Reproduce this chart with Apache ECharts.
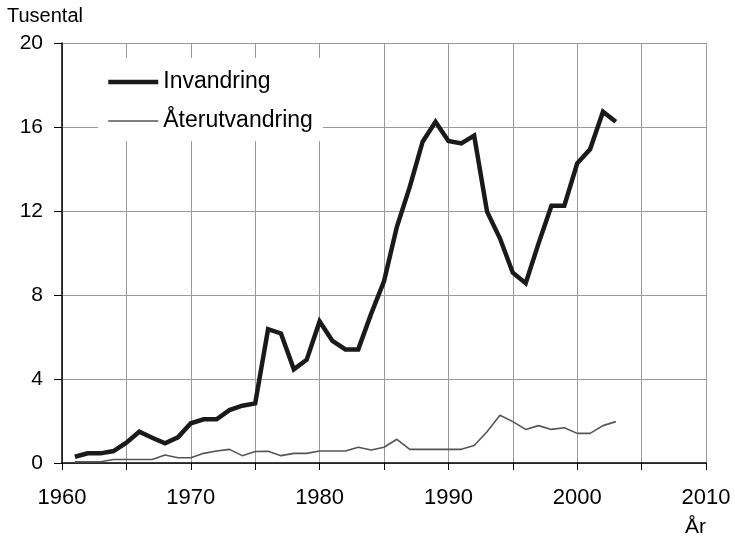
<!DOCTYPE html>
<html>
<head>
<meta charset="utf-8">
<script src="https://cdn.jsdelivr.net/npm/echarts@6/dist/echarts.min.js"></script>
<style>
html,body{margin:0;padding:0;background:#fff;}
#chart{width:735px;height:540px;}
</style>
</head>
<body>
<div id="chart"></div>
<script>
var years = [1961,1962,1963,1964,1965,1966,1967,1968,1969,1970,1971,1972,1973,1974,1975,1976,1977,1978,1979,1980,1981,1982,1983,1984,1985,1986,1987,1988,1989,1990,1991,1992,1993,1994,1995,1996,1997,1998,1999,2000,2001,2002,2003];
var invandring = [0.3,0.46,0.46,0.57,0.97,1.49,1.2,0.94,1.22,1.89,2.08,2.08,2.52,2.73,2.84,6.37,6.17,4.46,4.92,6.74,5.81,5.41,5.41,7.1,8.65,11.25,13.15,15.3,16.25,15.33,15.22,15.59,11.97,10.7,9.06,8.56,10.46,12.25,12.25,14.27,14.94,16.73,16.25];
var aterutvandring = [0.06,0.06,0.06,0.17,0.17,0.17,0.17,0.38,0.25,0.25,0.46,0.57,0.65,0.35,0.55,0.56,0.35,0.46,0.46,0.57,0.57,0.57,0.75,0.62,0.75,1.13,0.65,0.65,0.65,0.65,0.65,0.83,1.49,2.27,1.97,1.6,1.78,1.6,1.68,1.41,1.41,1.78,1.97];
var seriesNames = ['Invandring','Återutvandring'];
var yTicks = [0,4,8,12,16,20];
var xLabelYears = [1960,1970,1980,1990,2000,2010];

function pairs(xs, ys){ return xs.map(function(x,i){ return [x, ys[i]]; }); }

var chart = echarts.init(document.getElementById('chart'), null, {renderer:'canvas'});
var font = 'Liberation Sans, Arial, Helvetica, sans-serif';
chart.setOption({
  animation:false,
  backgroundColor:'#ffffff',
  textStyle:{fontFamily:font},
  grid:{left:62, right:29, top:43, bottom:77, containLabel:false},
  xAxis:{
    type:'value', min:1960, max:2010, interval:5,
    axisLine:{show:true, onZero:false, lineStyle:{color:'#000', width:1.5}},
    axisTick:{show:true, length:7, lineStyle:{color:'#000', width:1}},
    axisLabel:{
      margin:24, fontSize:22, color:'#000', fontFamily:font,
      formatter:function(v){ return xLabelYears.indexOf(v) >= 0 ? String(v) : ''; }
    },
    splitLine:{show:true, lineStyle:{color:'#9a9a9a', width:1}}
  },
  yAxis:{
    type:'value', min:0, max:20, interval:4,
    axisLine:{show:true, lineStyle:{color:'#000', width:1.5}},
    axisTick:{show:true, length:8, lineStyle:{color:'#000', width:1}},
    axisLabel:{
      margin:19, fontSize:21, color:'#000', fontFamily:font,
      formatter:function(v){ return yTicks.indexOf(v) >= 0 ? String(v) : ''; }
    },
    splitLine:{show:true, lineStyle:{color:'#9a9a9a', width:1}}
  },
  legend:{
    show:true,
    orient:'vertical',
    left:98, top:58,
    backgroundColor:'#ffffff',
    padding:[12,10,8,8],
    itemWidth:50, itemHeight:24, itemGap:15,
    itemStyle:{color:'rgba(0,0,0,0)', borderColor:'rgba(0,0,0,0)', borderWidth:0, opacity:0},
    textStyle:{fontSize:23, color:'#000', fontFamily:font, lineHeight:24},
    data:[
      {name:seriesNames[0], lineStyle:{width:4.5, color:'#1a1a1a'}},
      {name:seriesNames[1], lineStyle:{width:1.6, color:'#555555'}}
    ]
  },
  graphic:[
    {type:'text', left:7, top:6, style:{text:'Tusental', fill:'#000', font:'20px ' + font}},
    {type:'text', left:685, top:517, style:{text:'År', fill:'#000', font:'21px ' + font}}
  ],
  series:[
    {
      name:seriesNames[0], type:'line', data:pairs(years, invandring),
      symbol:'none', smooth:false, z:3,
      lineStyle:{color:'#1a1a1a', width:4.5, join:'miter'},
      itemStyle:{color:'#1a1a1a'}
    },
    {
      name:seriesNames[1], type:'line', data:pairs(years, aterutvandring),
      symbol:'none', smooth:false, z:2,
      lineStyle:{color:'#555555', width:1.6},
      itemStyle:{color:'#555555'}
    }
  ]
});
</script>
</body>
</html>
